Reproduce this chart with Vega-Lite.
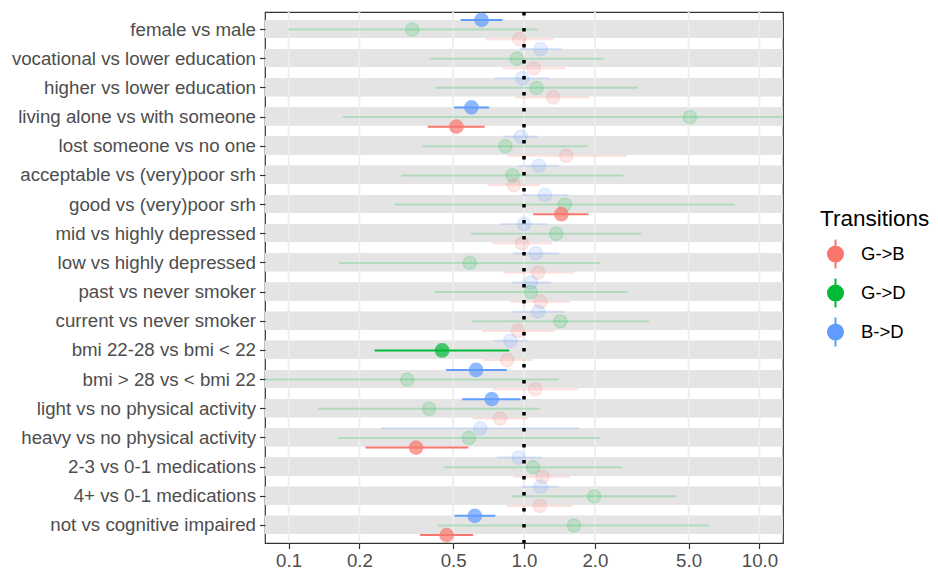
{
  "$schema": "https://vega.github.io/schema/vega-lite/v6.json",
  "width": 518,
  "height": 531,
  "autosize": {"type": "none"},
  "padding": {"left": 265, "top": 12, "right": 155, "bottom": 31},
  "config": {
    "font": "Liberation Sans",
    "view": {"stroke": "#333333", "strokeWidth": 1.2}
  },
  "datasets": {
    "est": [
      {"label": "female vs male", "transition": "B->D", "est": 0.66, "lo": 0.538, "hi": 0.81, "sig": "yes"},
      {"label": "female vs male", "transition": "G->D", "est": 0.335, "lo": 0.099, "hi": 1.14, "sig": "no"},
      {"label": "female vs male", "transition": "G->B", "est": 0.955, "lo": 0.685, "hi": 1.33, "sig": "no"},
      {"label": "vocational vs lower education", "transition": "B->D", "est": 1.175, "lo": 0.96, "hi": 1.44, "sig": "no"},
      {"label": "vocational vs lower education", "transition": "G->D", "est": 0.933, "lo": 0.40, "hi": 2.18, "sig": "no"},
      {"label": "vocational vs lower education", "transition": "G->B", "est": 1.10, "lo": 0.81, "hi": 1.50, "sig": "no"},
      {"label": "higher vs lower education", "transition": "B->D", "est": 0.984, "lo": 0.748, "hi": 1.28, "sig": "no"},
      {"label": "higher vs lower education", "transition": "G->D", "est": 1.13, "lo": 0.419, "hi": 3.05, "sig": "no"},
      {"label": "higher vs lower education", "transition": "G->B", "est": 1.33, "lo": 0.918, "hi": 1.89, "sig": "no"},
      {"label": "living alone vs with someone", "transition": "B->D", "est": 0.598, "lo": 0.504, "hi": 0.712, "sig": "yes"},
      {"label": "living alone vs with someone", "transition": "G->D", "est": 5.06, "lo": 0.170, "hi": 16, "sig": "no"},
      {"label": "living alone vs with someone", "transition": "G->B", "est": 0.516, "lo": 0.39, "hi": 0.68, "sig": "yes"},
      {"label": "lost someone vs no one", "transition": "B->D", "est": 0.97, "lo": 0.82, "hi": 1.145, "sig": "no"},
      {"label": "lost someone vs no one", "transition": "G->D", "est": 0.834, "lo": 0.371, "hi": 1.86, "sig": "no"},
      {"label": "lost someone vs no one", "transition": "G->B", "est": 1.51, "lo": 0.851, "hi": 2.73, "sig": "no"},
      {"label": "acceptable vs (very)poor srh", "transition": "B->D", "est": 1.156, "lo": 0.948, "hi": 1.41, "sig": "no"},
      {"label": "acceptable vs (very)poor srh", "transition": "G->D", "est": 0.894, "lo": 0.301, "hi": 2.64, "sig": "no"},
      {"label": "acceptable vs (very)poor srh", "transition": "G->B", "est": 0.906, "lo": 0.70, "hi": 1.17, "sig": "no"},
      {"label": "good vs (very)poor srh", "transition": "B->D", "est": 1.227, "lo": 0.977, "hi": 1.54, "sig": "no"},
      {"label": "good vs (very)poor srh", "transition": "G->D", "est": 1.49, "lo": 0.282, "hi": 7.84, "sig": "no"},
      {"label": "good vs (very)poor srh", "transition": "G->B", "est": 1.44, "lo": 1.093, "hi": 1.88, "sig": "yes"},
      {"label": "mid vs highly depressed", "transition": "B->D", "est": 1.0, "lo": 0.794, "hi": 1.26, "sig": "no"},
      {"label": "mid vs highly depressed", "transition": "G->D", "est": 1.37, "lo": 0.594, "hi": 3.16, "sig": "no"},
      {"label": "mid vs highly depressed", "transition": "G->B", "est": 0.98, "lo": 0.731, "hi": 1.31, "sig": "no"},
      {"label": "low vs highly depressed", "transition": "B->D", "est": 1.12, "lo": 0.897, "hi": 1.41, "sig": "no"},
      {"label": "low vs highly depressed", "transition": "G->D", "est": 0.588, "lo": 0.164, "hi": 2.11, "sig": "no"},
      {"label": "low vs highly depressed", "transition": "G->B", "est": 1.148, "lo": 0.818, "hi": 1.63, "sig": "no"},
      {"label": "past vs never smoker", "transition": "B->D", "est": 1.07, "lo": 0.894, "hi": 1.30, "sig": "no"},
      {"label": "past vs never smoker", "transition": "G->D", "est": 1.068, "lo": 0.416, "hi": 2.75, "sig": "no"},
      {"label": "past vs never smoker", "transition": "G->B", "est": 1.175, "lo": 0.874, "hi": 1.57, "sig": "no"},
      {"label": "current vs never smoker", "transition": "B->D", "est": 1.148, "lo": 0.897, "hi": 1.49, "sig": "no"},
      {"label": "current vs never smoker", "transition": "G->D", "est": 1.427, "lo": 0.60, "hi": 3.39, "sig": "no"},
      {"label": "current vs never smoker", "transition": "G->B", "est": 0.942, "lo": 0.663, "hi": 1.354, "sig": "no"},
      {"label": "bmi 22-28 vs bmi < 22", "transition": "B->D", "est": 0.874, "lo": 0.741, "hi": 1.037, "sig": "no"},
      {"label": "bmi 22-28 vs bmi < 22", "transition": "G->D", "est": 0.449, "lo": 0.232, "hi": 0.865, "sig": "yes"},
      {"label": "bmi 22-28 vs bmi < 22", "transition": "G->B", "est": 0.848, "lo": 0.665, "hi": 1.093, "sig": "no"},
      {"label": "bmi > 28 vs < bmi 22", "transition": "B->D", "est": 0.626, "lo": 0.467, "hi": 0.845, "sig": "yes"},
      {"label": "bmi > 28 vs < bmi 22", "transition": "G->D", "est": 0.319, "lo": 0.07, "hi": 1.40, "sig": "no"},
      {"label": "bmi > 28 vs < bmi 22", "transition": "G->B", "est": 1.115, "lo": 0.736, "hi": 1.70, "sig": "no"},
      {"label": "light vs no physical activity", "transition": "B->D", "est": 0.729, "lo": 0.547, "hi": 0.968, "sig": "yes"},
      {"label": "light vs no physical activity", "transition": "G->D", "est": 0.395, "lo": 0.133, "hi": 1.17, "sig": "no"},
      {"label": "light vs no physical activity", "transition": "G->B", "est": 0.791, "lo": 0.604, "hi": 1.037, "sig": "no"},
      {"label": "heavy vs no physical activity", "transition": "B->D", "est": 0.652, "lo": 0.247, "hi": 1.716, "sig": "no"},
      {"label": "heavy vs no physical activity", "transition": "G->D", "est": 0.583, "lo": 0.162, "hi": 2.09, "sig": "no"},
      {"label": "heavy vs no physical activity", "transition": "G->B", "est": 0.348, "lo": 0.212, "hi": 0.58, "sig": "yes"},
      {"label": "2-3 vs 0-1 medications", "transition": "B->D", "est": 0.949, "lo": 0.766, "hi": 1.195, "sig": "no"},
      {"label": "2-3 vs 0-1 medications", "transition": "G->D", "est": 1.093, "lo": 0.457, "hi": 2.61, "sig": "no"},
      {"label": "2-3 vs 0-1 medications", "transition": "G->B", "est": 1.198, "lo": 0.897, "hi": 1.57, "sig": "no"},
      {"label": "4+ vs 0-1 medications", "transition": "B->D", "est": 1.175, "lo": 0.98, "hi": 1.41, "sig": "no"},
      {"label": "4+ vs 0-1 medications", "transition": "G->D", "est": 1.985, "lo": 0.885, "hi": 4.45, "sig": "no"},
      {"label": "4+ vs 0-1 medications", "transition": "G->B", "est": 1.167, "lo": 0.845, "hi": 1.61, "sig": "no"},
      {"label": "not vs cognitive impaired", "transition": "B->D", "est": 0.618, "lo": 0.507, "hi": 0.756, "sig": "yes"},
      {"label": "not vs cognitive impaired", "transition": "G->D", "est": 1.63, "lo": 0.43, "hi": 6.1, "sig": "no"},
      {"label": "not vs cognitive impaired", "transition": "G->B", "est": 0.469, "lo": 0.362, "hi": 0.608, "sig": "yes"}
    ],
    "grid": [{"g": 0.1}, {"g": 0.2}, {"g": 0.5}, {"g": 1}, {"g": 2}, {"g": 5}, {"g": 10}]
  },
  "layer": [
    {
      "data": {"name": "est"},
      "mark": {"type": "rect", "color": "#E4E4E4"},
      "encoding": {
        "y": {
          "field": "label", "type": "nominal", "sort": null,
          "scale": {"paddingInner": 0.34, "paddingOuter": 0.27},
          "axis": {"title": null, "labelFontSize": 18.7, "labelColor": "#4D4D4D", "tickColor": "#333333", "tickSize": 5.5, "tickWidth": 1.2, "labelPadding": 4, "domain": false, "grid": false, "labelLimit": 400}
        }
      }
    },
    {
      "data": {"name": "grid"},
      "mark": {"type": "rule", "color": "#EDEDED", "strokeWidth": 1.8},
      "encoding": {
        "x": {
          "field": "g", "type": "quantitative",
          "scale": {"type": "log", "domain": [0.0794, 12.59], "nice": false},
          "axis": {"title": null, "values": [0.1, 0.2, 0.5, 1, 2, 5, 10], "format": ".1f", "labelFontSize": 18.7, "labelColor": "#4D4D4D", "tickColor": "#333333", "tickSize": 5.5, "tickWidth": 1.2, "labelPadding": 3, "domain": false, "grid": false}
        }
      }
    },
    {
      "data": {"name": "est"},
      "mark": {"type": "rule", "strokeWidth": 2, "clip": true},
      "encoding": {
        "x": {"field": "lo", "type": "quantitative"},
        "x2": {"field": "hi"},
        "y": {"field": "label", "type": "nominal", "sort": null},
        "yOffset": {"field": "transition", "type": "nominal", "scale": {"type": "point", "padding": 0, "domain": ["B->D", "G->D", "G->B"]}},
        "color": {
          "field": "transition", "type": "nominal",
          "scale": {"domain": ["G->B", "G->D", "B->D"], "range": ["#F8766D", "#00BA38", "#619CFF"]},
          "legend": {
            "title": "Transitions", "orient": "none", "legendX": 555, "legendY": 196, "padding": 0,
            "titleFontSize": 22.5, "titleFontWeight": "normal", "titleColor": "black", "titlePadding": 8,
            "labelFontSize": 18.5, "labelColor": "black", "labelOffset": 10,
            "symbolType": "M0,-1L0,1M-0.52,0A0.52,0.52,0,1,1,0.52,0A0.52,0.52,0,1,1,-0.52,0Z",
            "symbolSize": 841, "symbolStrokeWidth": 2, "symbolOpacity": 1, "rowPadding": 2,
            "encode": {"symbols": {"update": {"stroke": {"scale": "color", "field": "value"}, "fill": {"scale": "color", "field": "value"}, "strokeWidth": {"value": 2}, "opacity": {"value": 1}, "fillOpacity": {"value": 1}, "strokeOpacity": {"value": 1}}}}
          }
        },
        "opacity": {"field": "sig", "type": "nominal", "scale": {"domain": ["yes", "no"], "range": [1, 0.22]}, "legend": null}
      }
    },
    {
      "data": {"name": "est"},
      "mark": {"type": "point", "filled": true, "size": 175, "strokeWidth": 1.5},
      "encoding": {
        "x": {"field": "est", "type": "quantitative"},
        "y": {"field": "label", "type": "nominal", "sort": null},
        "yOffset": {"field": "transition", "type": "nominal"},
        "color": {
          "field": "transition", "type": "nominal",
          "legend": {
            "title": "Transitions", "orient": "none", "legendX": 555, "legendY": 196, "padding": 0,
            "titleFontSize": 22.5, "titleFontWeight": "normal", "titleColor": "black", "titlePadding": 8,
            "labelFontSize": 18.5, "labelColor": "black", "labelOffset": 10,
            "symbolType": "M0,-1L0,1M-0.52,0A0.52,0.52,0,1,1,0.52,0A0.52,0.52,0,1,1,-0.52,0Z",
            "symbolSize": 841, "symbolStrokeWidth": 2, "symbolOpacity": 1, "rowPadding": 2,
            "encode": {"symbols": {"update": {"stroke": {"scale": "color", "field": "value"}, "fill": {"scale": "color", "field": "value"}, "strokeWidth": {"value": 2}, "opacity": {"value": 1}, "fillOpacity": {"value": 1}, "strokeOpacity": {"value": 1}}}}
          }
        },
        "stroke": {"field": "transition", "type": "nominal", "scale": {"domain": ["G->B", "G->D", "B->D"], "range": ["#F8766D", "#00BA38", "#619CFF"]}, "legend": null},
        "fillOpacity": {"field": "sig", "type": "nominal", "scale": {"domain": ["yes", "no"], "range": [1, 0.22]}, "legend": null},
        "strokeOpacity": {"field": "sig", "type": "nominal", "scale": {"domain": ["yes", "no"], "range": [1, 0.22]}, "legend": null}
      }
    },
    {
      "data": {"values": [{}]},
      "mark": {"type": "rule", "color": "black", "strokeWidth": 3.5, "strokeDash": [3.5, 12.5]},
      "encoding": {"x": {"datum": 1}}
    }
  ]
}
